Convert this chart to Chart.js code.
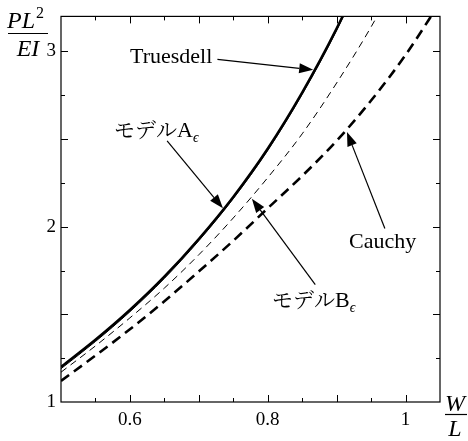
<!DOCTYPE html>
<html>
<head>
<meta charset="utf-8">
<script src="https://cdn.jsdelivr.net/npm/chart.js@4/dist/chart.umd.min.js"></script>
<style>
  html, body { margin: 0; padding: 0; }
  canvas { display: block; }
</style>
</head>
<body>
<canvas id="elasticaChart" width="468" height="441"></canvas>
<script>
// W/L sample positions (shared by all curves)
const wl = [0.5, 0.55, 0.6, 0.65, 0.7, 0.75, 0.8, 0.85, 0.9, 0.95, 1.0, 1.05];

// PL^2/EI
const truesdell = [1.20, 1.355, 1.525, 1.715, 1.93, 2.17, 2.445, 2.765, 3.13, 3.55];
const modelA = [1.19, 1.345, 1.515, 1.705, 1.92, 2.16, 2.435, 2.755, 3.12, 3.54];
const modelB = [1.17, 1.32, 1.48, 1.65, 1.84, 2.05, 2.28, 2.53, 2.82, 3.14, 3.50];
const cauchy = [1.12, 1.265, 1.415, 1.575, 1.745, 1.92, 2.105, 2.29, 2.49, 2.72, 2.98, 3.28];

// tick labels
const xTickLabels = [0.6, 0.8, 1];
const yTickLabels = [1, 2, 3];

// callouts: label text, label centre and arrow (data units)
const callouts = [
  { main: "Truesdell", at: [0.66, 2.975], from: [0.727, 2.955], to: [0.866, 2.895] },
  { main: "モデル", latin: "A", sub: "ϵ", at: [0.638, 2.55], from: [0.654, 2.49], to: [0.735, 2.105] },
  { main: "モデル", latin: "B", sub: "ϵ", at: [0.867, 1.58], from: [0.869, 1.67], to: [0.777, 2.16] },
  { main: "Cauchy", at: [0.967, 1.92], from: [0.970, 1.99], to: [0.915, 2.54] },
];

function toPoints(ys) {
  return ys.map((y, i) => ({ x: wl[i], y: y }));
}

function drawArrow(ctx, x1, y1, x2, y2) {
  const ang = Math.atan2(y2 - y1, x2 - x1);
  const len = 14, half = 5;
  const bx = x2 - len * Math.cos(ang), by = y2 - len * Math.sin(ang);
  ctx.beginPath();
  ctx.moveTo(x1, y1);
  ctx.lineTo(bx, by);
  ctx.lineWidth = 1.2;
  ctx.stroke();
  ctx.beginPath();
  ctx.moveTo(x2, y2);
  ctx.lineTo(bx + half * Math.sin(ang), by - half * Math.cos(ang));
  ctx.lineTo(bx - half * Math.sin(ang), by + half * Math.cos(ang));
  ctx.closePath();
  ctx.fill();
}

function drawLabel(ctx, c, cx, cy) {
  const parts = [];
  if (c.latin) {
    parts.push({ t: c.main, f: '21px "Noto Serif CJK JP"', dy: 0 });
    parts.push({ t: c.latin, f: '22px "Liberation Serif"', dy: 0 });
    parts.push({ t: c.sub, f: 'italic 14px "Liberation Serif"', dy: 5 });
  } else {
    parts.push({ t: c.main, f: '22px "Liberation Serif"', dy: 0 });
  }
  let total = 0;
  parts.forEach((p) => { ctx.font = p.f; p.w = ctx.measureText(p.t).width; total += p.w; });
  let x = Math.round(cx - total / 2);
  const y = Math.round(cy + 7);
  ctx.textAlign = "left";
  ctx.textBaseline = "alphabetic";
  parts.forEach((p) => {
    ctx.font = p.f;
    ctx.fillText(p.t, x, y + p.dy);
    x += p.w;
  });
}

const decorPlugin = {
  id: "decor",
  afterDraw(chart) {
    const ctx = chart.ctx;
    const a = chart.chartArea;
    const xs = chart.scales.x, ys = chart.scales.y;
    ctx.save();
    ctx.strokeStyle = "#000";
    ctx.fillStyle = "#000";

    // frame
    ctx.lineWidth = 1.2;
    ctx.strokeRect(a.left, a.top, a.right - a.left, a.bottom - a.top);

    // inward ticks on all four sides
    ctx.lineWidth = 1;
    for (let i = 1; i <= 10; i++) {
      const v = 0.5 + i * 0.05;
      const px = Math.round(xs.getPixelForValue(v)) + 0.5;
      const l = i % 2 === 0 ? 7 : 4;
      ctx.beginPath();
      ctx.moveTo(px, a.bottom); ctx.lineTo(px, a.bottom - l);
      ctx.moveTo(px, a.top); ctx.lineTo(px, a.top + l);
      ctx.stroke();
    }
    for (let i = 1; i <= 8; i++) {
      const v = 1 + i * 0.25;
      const py = Math.round(ys.getPixelForValue(v)) + 0.5;
      const l = i % 2 === 0 ? 7 : 4;
      ctx.beginPath();
      ctx.moveTo(a.left, py); ctx.lineTo(a.left + l, py);
      ctx.moveTo(a.right, py); ctx.lineTo(a.right - l, py);
      ctx.stroke();
    }

    // callouts
    callouts.forEach((c) => {
      drawLabel(ctx, c, xs.getPixelForValue(c.at[0]), ys.getPixelForValue(c.at[1]));
      drawArrow(ctx,
        xs.getPixelForValue(c.from[0]), ys.getPixelForValue(c.from[1]),
        xs.getPixelForValue(c.to[0]), ys.getPixelForValue(c.to[1]));
    });

    // y axis title PL^2 / EI
    ctx.textBaseline = "alphabetic";
    ctx.textAlign = "left";
    ctx.font = 'italic 24px "Liberation Serif"';
    ctx.fillText("PL", a.left - 54, 28);
    const plw = ctx.measureText("PL").width;
    ctx.font = '16px "Liberation Serif"';
    ctx.fillText("2", a.left - 54 + plw + 1, 18);
    ctx.lineWidth = 1.2;
    ctx.beginPath();
    ctx.moveTo(a.left - 53, 33.5); ctx.lineTo(a.left - 13, 33.5);
    ctx.stroke();
    ctx.textAlign = "center";
    ctx.font = 'italic 24px "Liberation Serif"';
    ctx.fillText("EI", a.left - 33, 56);

    // x axis title W / L
    ctx.fillText("W", a.right + 15, a.bottom + 9);
    ctx.beginPath();
    ctx.moveTo(a.right + 5, a.bottom + 12.5); ctx.lineTo(a.right + 27, a.bottom + 12.5);
    ctx.stroke();
    ctx.fillText("L", a.right + 15, a.bottom + 34);

    ctx.restore();
  },
};

new Chart(document.getElementById("elasticaChart").getContext("2d"), {
  type: "line",
  data: {
    datasets: [
      { label: "Truesdell", data: toPoints(truesdell), borderColor: "#000", borderWidth: 2.6, pointRadius: 0, cubicInterpolationMode: "monotone" },
      { label: "Model A", data: toPoints(modelA), borderColor: "#000", borderWidth: 1, pointRadius: 0, cubicInterpolationMode: "monotone" },
      { label: "Model B", data: toPoints(modelB), borderColor: "#000", borderWidth: 1, borderDash: [7, 5], pointRadius: 0, cubicInterpolationMode: "monotone" },
      { label: "Cauchy", data: toPoints(cauchy), borderColor: "#000", borderWidth: 2.6, borderDash: [10, 6], pointRadius: 0, cubicInterpolationMode: "monotone" },
    ],
  },
  options: {
    responsive: false,
    animation: false,
    layout: { padding: { left: 0, top: 10, right: 28, bottom: 0 } },
    scales: {
      x: {
        type: "linear",
        min: 0.5,
        max: 1.05,
        afterFit: (s) => { s.height = 39; },
        afterBuildTicks: (s) => { s.ticks = xTickLabels.map((v) => ({ value: v })); },
        grid: { display: false, drawTicks: false },
        border: { display: false },
        ticks: { padding: 7, color: "#000", font: { family: '"Liberation Serif"', size: 19 }, callback: (v) => String(v) },
      },
      y: {
        type: "linear",
        min: 1,
        max: 3.2,
        afterFit: (s) => { s.width = 61; },
        afterBuildTicks: (s) => { s.ticks = yTickLabels.map((v) => ({ value: v })); },
        grid: { display: false, drawTicks: false },
        border: { display: false },
        ticks: { padding: 5, color: "#000", font: { family: '"Liberation Serif"', size: 19 }, callback: (v) => String(v) },
      },
    },
    plugins: {
      legend: { display: false },
      tooltip: { enabled: false },
    },
  },
  plugins: [decorPlugin],
});
</script>
</body>
</html>
